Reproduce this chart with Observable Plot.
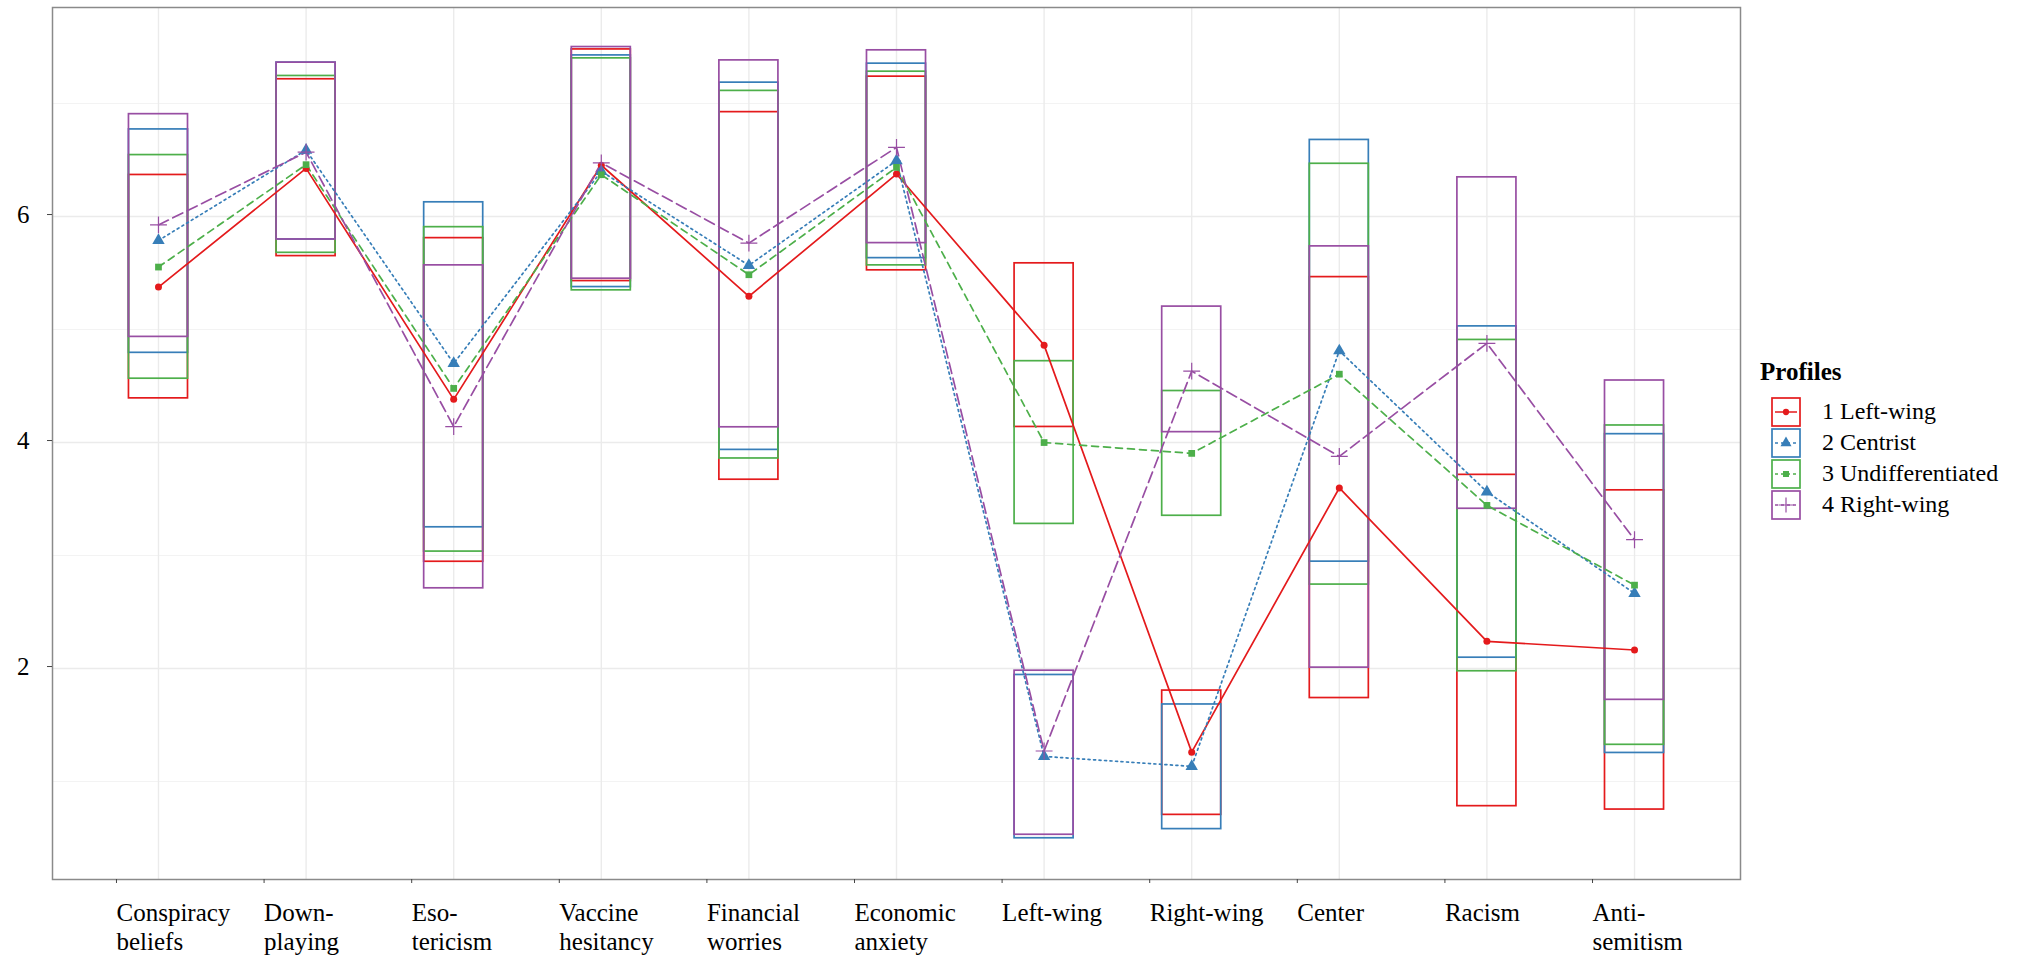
<!DOCTYPE html>
<html>
<head>
<meta charset="utf-8">
<script src="https://cdn.jsdelivr.net/npm/d3@7"></script>
<script src="https://cdn.jsdelivr.net/npm/@observablehq/plot@0.6"></script>
<style>
  body { margin: 0; background: #fff; }
  #wrap { position: relative; width: 2019px; height: 958px; background: #fff; }
  #legend { position: absolute; left: 1760px; top: 357px; font-family: "Liberation Serif", "Times New Roman", serif; color: #000; }
  #legend .title { font-weight: bold; font-size: 25px; line-height: 30px; height: 39px; }
  #legend .row { display: flex; align-items: center; height: 31px; }
  #legend .row svg { display: block; margin-left: 11px; }
  #legend .row span { font-size: 24px; line-height: 31px; margin-left: 21px; white-space: nowrap; font-family: "Liberation Serif", "Times New Roman", serif; }
</style>
</head>
<body>
<div id="wrap"><div id="legend"></div></div>
<script>
// ---- data ----
const categories = ["Conspiracy\nbeliefs", "Down-\nplaying", "Eso-\ntericism", "Vaccine\nhesitancy",
  "Financial\nworries", "Economic\nanxiety", "Left-wing", "Right-wing", "Center", "Racism", "Anti-\nsemitism"];
const profiles = ["1 Left-wing", "2 Centrist", "3 Undifferentiated", "4 Right-wing"];

// 1 Left-wing
const meanLeft = [5.376, 6.426, 4.382, 6.454, 5.294, 6.376, 4.862, 1.260, 3.598, 2.241, 2.164];
const loLeft   = [4.391, 5.650, 2.945, 5.429, 3.671, 5.524, 4.138, 0.705, 1.739, 0.782, 0.752];
const hiLeft   = [6.368, 7.215, 5.809, 7.479, 6.924, 7.238, 5.586, 1.805, 5.464, 3.714, 3.577];
// 2 Centrist
const meanCentrist = [5.788, 6.588, 4.700, 6.400, 5.568, 6.494, 1.222, 1.134, 4.812, 3.564, 2.665];
const loCentrist   = [4.794, 5.797, 3.250, 5.376, 3.935, 5.632, 0.498, 0.579, 2.946, 2.096, 1.253];
const hiCentrist   = [6.771, 7.362, 6.126, 7.426, 7.185, 7.353, 1.943, 1.682, 6.678, 5.028, 4.074];
// 3 Undifferentiated
const meanUndiff = [5.553, 6.459, 4.479, 6.370, 5.485, 6.435, 4.000, 3.904, 4.605, 3.444, 2.738];
const loUndiff   = [4.565, 5.679, 3.035, 5.347, 3.859, 5.568, 3.280, 3.352, 2.743, 1.976, 1.325];
const hiUndiff   = [6.544, 7.244, 5.906, 7.400, 7.112, 7.282, 4.720, 4.456, 6.467, 4.908, 4.151];
// 4 Right-wing
const meanRight = [5.926, 6.570, 4.141, 6.475, 5.765, 6.612, 1.270, 4.632, 3.877, 4.878, 3.140];
const loRight   = [4.935, 5.797, 2.710, 5.450, 4.135, 5.765, 0.529, 4.092, 2.008, 3.414, 1.723];
const hiRight   = [6.906, 7.362, 5.568, 7.500, 7.382, 7.471, 1.981, 5.203, 5.736, 6.347, 4.549];

const yTicks = [2, 4, 6];
const yMinor = [1, 3, 5, 7];

// ---- styling ----
const colors = ["#E41A1C", "#377EB8", "#4DAF4A", "#984EA3"];
const dashes = [null, "2,3.5", "7,5", "11,5"];
const symbols = ["circle", "triangle", "square", "plus"];
const symR = [3.5, 4.6, 3.8, 5.5];

const series = [
  [meanLeft, loLeft, hiLeft],
  [meanCentrist, loCentrist, hiCentrist],
  [meanUndiff, loUndiff, hiUndiff],
  [meanRight, loRight, hiRight]
];
const rows = [];
series.forEach(([m, lo, hi], k) => {
  m.forEach((v, i) => rows.push({profile: profiles[k], k, i, mean: v, lo: lo[i], hi: hi[i]}));
});
const idx = categories.map((_, i) => i);

const marks = [
  Plot.ruleY(yMinor, {stroke: "#f3f3f3", strokeWidth: 1}),
  Plot.ruleY(yTicks, {stroke: "#ebebeb", strokeWidth: 1.4}),
  Plot.ruleX(idx, {stroke: "#ebebeb", strokeWidth: 1.4}),
  Plot.rect(rows, {x1: d => d.i - 0.2, x2: d => d.i + 0.2, y1: "lo", y2: "hi",
    stroke: "profile", fill: "none", strokeWidth: 1.7})
];
profiles.forEach((p, k) => {
  const data = rows.filter(d => d.k === k);
  marks.push(Plot.line(data, {x: "i", y: "mean", stroke: "profile", strokeWidth: 1.7,
    strokeDasharray: dashes[k] || undefined}));
});
profiles.forEach((p, k) => {
  const data = rows.filter(d => d.k === k);
  if (symbols[k] === "plus") {
    marks.push(Plot.dot(data, {x: "i", y: "mean", symbol: "plus", r: symR[k], stroke: "profile", strokeWidth: 1.2}));
  } else {
    marks.push(Plot.dot(data, {x: "i", y: "mean", symbol: symbols[k], r: symR[k], fill: "profile", stroke: "none"}));
  }
});
marks.push(Plot.frame({stroke: "#8a8a8a", strokeWidth: 1.5}));
marks.push(Plot.axisX(idx, {tickFormat: i => categories[i], tickSize: 4, tickPadding: 17, label: null,
  textAnchor: "start", dx: -42, lineHeight: 1.16, stroke: "#444", fill: "#000"}));
marks.push(Plot.axisY(yTicks, {tickFormat: d => String(d), tickSize: 5, tickPadding: 18, label: null,
  dy: -2, stroke: "#444", fill: "#000"}));

const chart = Plot.plot({
  width: 2019,
  height: 958,
  marginLeft: 52,
  marginRight: 279,
  marginTop: 7,
  marginBottom: 79,
  style: {fontFamily: '"Liberation Serif", "Times New Roman", serif', fontSize: "25px", background: "#fff", color: "#000"},
  x: {type: "linear", domain: [-0.718, 10.718], label: null},
  y: {domain: [0.133, 7.85], label: null},
  color: {domain: profiles, range: colors},
  marks
});
document.getElementById("wrap").prepend(chart);

// ---- legend ----
const legend = d3.select("#legend");
legend.append("div").attr("class", "title").text("Profiles");
profiles.forEach((p, k) => {
  const row = legend.append("div").attr("class", "row");
  const svg = row.append("svg").attr("width", 30).attr("height", 30);
  svg.append("rect").attr("x", 1).attr("y", 1).attr("width", 28).attr("height", 28)
    .attr("fill", "#fff").attr("stroke", colors[k]).attr("stroke-width", 1.7);
  svg.append("line").attr("x1", 4).attr("x2", 26).attr("y1", 15).attr("y2", 15)
    .attr("stroke", colors[k]).attr("stroke-width", 1.5)
    .attr("stroke-dasharray", dashes[k] ? "3,3" : null);
  const symMap = {circle: d3.symbolCircle, triangle: d3.symbolTriangle, square: d3.symbolSquare, plus: d3.symbolPlus};
  const path = svg.append("path").attr("transform", "translate(15,15)")
    .attr("d", d3.symbol(symMap[symbols[k]], Math.PI * symR[k] * symR[k] * 0.8)());
  if (symbols[k] === "plus") path.attr("fill", "none").attr("stroke", colors[k]).attr("stroke-width", 1.2);
  else path.attr("fill", colors[k]);
  row.append("span").text(p);
});
</script>
</body>
</html>
